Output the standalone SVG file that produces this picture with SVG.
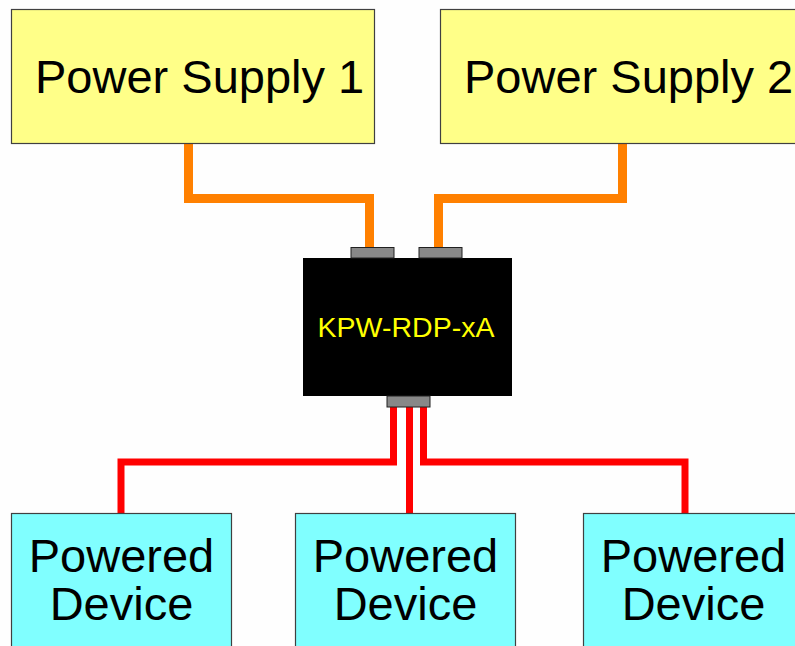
<svg xmlns="http://www.w3.org/2000/svg" width="795" height="646" viewBox="0 0 795 646">
<style>
.ps{fill:#ffff88;stroke:#404040;stroke-width:1.2}
.pd{fill:#80ffff;stroke:#404040;stroke-width:1.2}
.port{fill:#888888;stroke:#202020;stroke-width:1}
.big{font-family:"Liberation Sans",Arial,sans-serif;font-size:47px;fill:#000}
.lbl{font-family:"Liberation Sans",Arial,sans-serif;font-size:28.5px;fill:#ffff00}
.or{fill:none;stroke:#ff8000;stroke-width:9;stroke-linejoin:miter}
.rd{fill:none;stroke:#ff0000;stroke-width:7;stroke-linejoin:miter}
</style>
<rect width="795" height="646" fill="#fefefe"/>
<g id="connectors">
<path class="or" d="M188.5 143 V198.5 H369.5 V248"/>
<path class="or" d="M622.5 143 V198.5 H438.5 V248"/>
<path class="rd" d="M393.5 406 V462 H121 V514"/>
<path class="rd" d="M409.5 406 V514"/>
<path class="rd" d="M423.5 406 V462 H685 V514"/>
</g>
<g id="ps1">
<rect class="ps" x="11.5" y="9.5" width="363" height="134"/>
<text class="big" x="35" y="93">Power Supply 1</text>
</g>
<g id="ps2">
<rect class="ps" x="440.5" y="9.5" width="370" height="134"/>
<text class="big" x="464" y="93">Power Supply 2</text>
</g>
<g id="kpw">
<rect x="303" y="258" width="209" height="138" fill="#000"/>
<rect class="port" x="351" y="247.5" width="43" height="10.5"/>
<rect class="port" x="419" y="247.5" width="43" height="10.5"/>
<rect class="port" x="387" y="396" width="43" height="11"/>
<text class="lbl" x="406" y="337" text-anchor="middle">KPW-RDP-xA</text>
</g>
<g id="pd1">
<rect class="pd" x="11.5" y="513.5" width="220" height="140"/>
<text class="big" x="121.5" y="572" text-anchor="middle">Powered</text>
<text class="big" x="121.5" y="620" text-anchor="middle">Device</text>
</g>
<g id="pd2">
<rect class="pd" x="295.5" y="513.5" width="220" height="140"/>
<text class="big" x="405.5" y="572" text-anchor="middle">Powered</text>
<text class="big" x="405.5" y="620" text-anchor="middle">Device</text>
</g>
<g id="pd3">
<rect class="pd" x="583.5" y="513.5" width="220" height="140"/>
<text class="big" x="693.5" y="572" text-anchor="middle">Powered</text>
<text class="big" x="693.5" y="620" text-anchor="middle">Device</text>
</g>
</svg>
